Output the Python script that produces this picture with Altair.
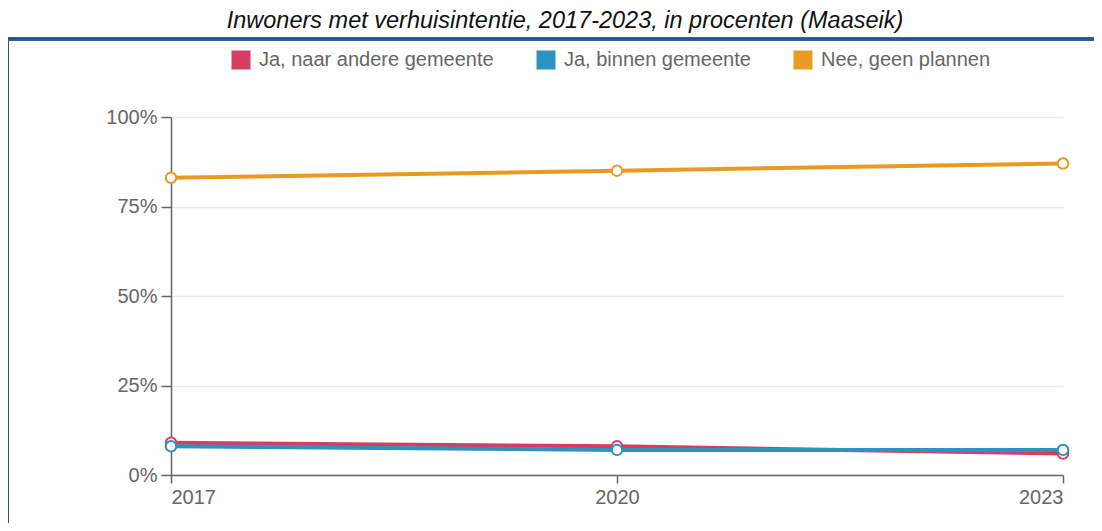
import altair as alt
import pandas as pd

years = [2017, 2020, 2023]
series = ["Ja, naar andere gemeente", "Ja, binnen gemeente", "Nee, geen plannen"]
andere = [9, 8, 6]
binnen = [8, 7, 7]
nee = [83, 85, 87]
colors = ["#d63d63", "#2b93c0", "#e89a22"]

rows = []
for s, vals in zip(series, [andere, binnen, nee]):
    for y, v in zip(years, vals):
        rows.append({"jaar": y, "reeks": s, "waarde": v / 100})
df = pd.DataFrame(rows)

W, H = 892, 358
FONT = "Liberation Sans"
LBL = 20

x = alt.X("jaar:Q", scale=alt.Scale(domain=[2017, 2023], nice=False, zero=False),
          axis=alt.Axis(values=years, format="d", title=None, grid=False,
                        labelFontSize=LBL, labelColor="#666", labelFont=FONT,
                        domainColor="#666", tickColor="#666", tickSize=8,
                        domainWidth=1.5, tickWidth=1.5, labelPadding=4))
y = alt.Y("waarde:Q", scale=alt.Scale(domain=[0, 1]),
          axis=alt.Axis(values=[0, 0.25, 0.5, 0.75, 1], format=".0%", title=None,
                        grid=True, gridColor="#eaeaea", gridWidth=1.5, labelFontSize=LBL,
                        labelColor="#666", labelFont=FONT, domainColor="#666",
                        domainWidth=1.5, tickWidth=1.5,
                        tickColor="#666", tickSize=10, labelPadding=4))
cscale = alt.Scale(domain=series, range=colors)

base = alt.Chart(df)
legend_layer = base.mark_square(opacity=0).encode(
    x=x, y=y,
    fill=alt.Fill("reeks:N", scale=cscale,
                  legend=alt.Legend(title=None, orient="none", legendX=60, legendY=-67,
                                    direction="horizontal", symbolType="square",
                                    symbolSize=361, symbolStrokeWidth=0,
                                    labelFontSize=LBL, labelColor="#666", labelFont=FONT,
                                    labelLimit=0, labelOffset=8,
                                    columnPadding=42, symbolOpacity=1)))
lines = base.mark_line(strokeWidth=4).encode(
    x=x, y=y, color=alt.Color("reeks:N", scale=cscale, legend=None))
points = base.mark_point(filled=False, fill="white", size=110, strokeWidth=2, opacity=1).encode(
    x=x, y=y, stroke=alt.Stroke("reeks:N", scale=cscale, legend=None))

frame_top = alt.Chart(df).mark_rule(color="#2b5592", strokeWidth=2.5).encode(
    x=alt.value(-164), x2=alt.value(1000), y=alt.value(-78))
frame_left = alt.Chart(df).mark_rule(color="#2b5592", strokeWidth=2.5).encode(
    x=alt.value(-163.5), y=alt.value(-79), y2=alt.value(500))

title_df = pd.DataFrame({"t": ["Inwoners met verhuisintentie, 2017-2023, in procenten (Maaseik)"]})
title = alt.Chart(title_df).mark_text(fontStyle="italic", fontSize=23.5, font=FONT,
                                      color="#111", align="center", baseline="alphabetic").encode(
    x=alt.value(394), y=alt.value(-89), text="t:N")

chart = alt.layer(frame_top, frame_left, legend_layer, lines, points, title).properties(
    width=W, height=H,
    autosize=alt.AutoSizeParams(type="none"),
    padding={"left": 163, "top": 109, "right": 31, "bottom": 48},
).configure_view(stroke=None)

chart.save("out.html", embed_options={"renderer": "svg", "actions": False})
